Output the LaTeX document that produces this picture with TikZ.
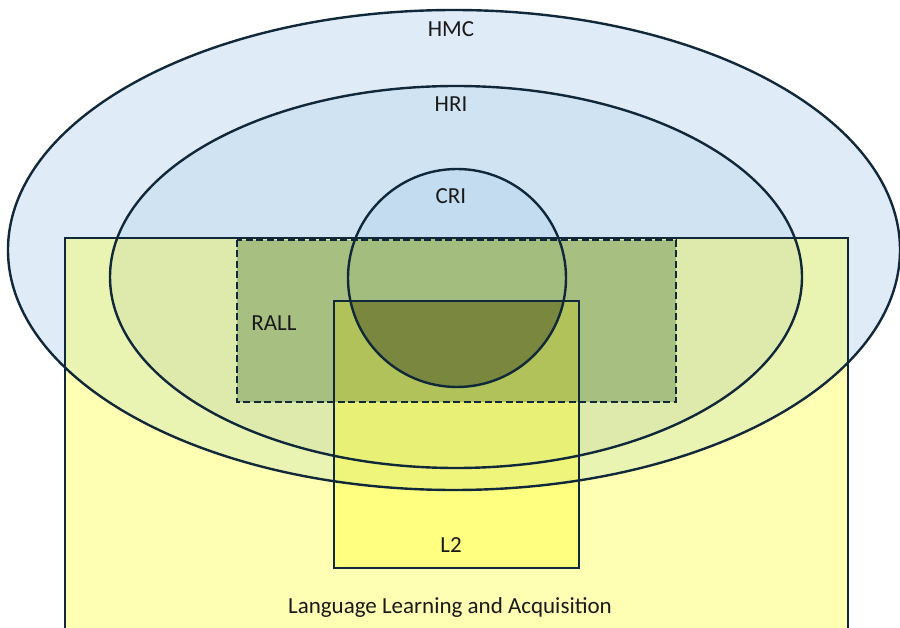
\documentclass[tikz,border=0pt]{standalone}
\usepackage{fontspec}
\setmainfont{Carlito}
% fills of the single regions
\definecolor{hmcband}{HTML}{DFECF7}
\definecolor{hriband}{HTML}{D0E3F2}
\definecolor{criband}{HTML}{C3DCF0}
\definecolor{llaonly}{HTML}{FFFFB4}
\definecolor{llahmc}{HTML}{EAF4B2}
\definecolor{llahri}{HTML}{DEEAAB}
\definecolor{rallfill}{HTML}{A7BF80}
\definecolor{rallcri}{HTML}{A3BD7F}
\definecolor{ltwoonly}{HTML}{FFFF80}
\definecolor{ltwohmc}{HTML}{EEF57A}
\definecolor{ltwohri}{HTML}{E8F176}
\definecolor{ltworall}{HTML}{B1C25A}
\definecolor{ltwocri}{HTML}{7A873E}
\definecolor{edge}{HTML}{10283A}
\definecolor{txt}{HTML}{1A1A1A}
\begin{document}
\begin{tikzpicture}[x=1pt,y=-1pt,
  outline/.style={draw=edge,line width=2.4pt},
  dashline/.style={outline,dash pattern=on 7pt off 3.5pt},
  lbl/.style={font=\fontsize{23}{27}\selectfont,text=txt,inner sep=0pt}]
\useasboundingbox (0,0) rectangle (900,628);
\def\hmcpath{(454,250) ellipse [x radius=446,y radius=240]}
\def\hripath{(456,277) ellipse [x radius=346,y radius=191]}
\def\cripath{(457,278) circle [radius=109]}
\def\llapath{(65,238) rectangle (848,660)}
\def\rallpath{(237,240) rectangle (676,402)}
\def\ltwopath{(334,301) rectangle (579,568)}
% nested fields
\fill[hmcband] \hmcpath;
\fill[hriband] \hripath;
\fill[criband] \cripath;
% language learning field
\fill[llaonly] \llapath;
\begin{scope}
  \clip \llapath;
  \fill[llahmc] \hmcpath;
  \fill[llahri] \hripath;
\end{scope}
% RALL
\fill[rallfill] \rallpath;
\begin{scope}
  \clip \rallpath;
  \fill[rallcri] \cripath;
\end{scope}
% L2
\fill[ltwoonly] \ltwopath;
\begin{scope}
  \clip \ltwopath;
  \fill[ltwohmc] \hmcpath;
  \fill[ltwohri] \hripath;
  \fill[ltworall] \rallpath;
  \clip \rallpath;
  \fill[ltwocri] \cripath;
\end{scope}
% outlines
\draw[outline] \hmcpath;
\draw[outline] \hripath;
\draw[outline] \cripath;
\draw[outline] \llapath;
\draw[dashline] \rallpath;
\draw[outline] \ltwopath;
% labels
\node[lbl] (hmc) at (451,29) {HMC};
\node[lbl] (hri) at (451,104) {HRI};
\node[lbl] (cri) at (451,196) {CRI};
\node[lbl] (rall) at (274,323) {RALL};
\node[lbl] (ltwo) at (451,545) {L2};
\node[lbl] (lla) at (450,607) {Language Learning and Acquisition};
\end{tikzpicture}
\end{document}
